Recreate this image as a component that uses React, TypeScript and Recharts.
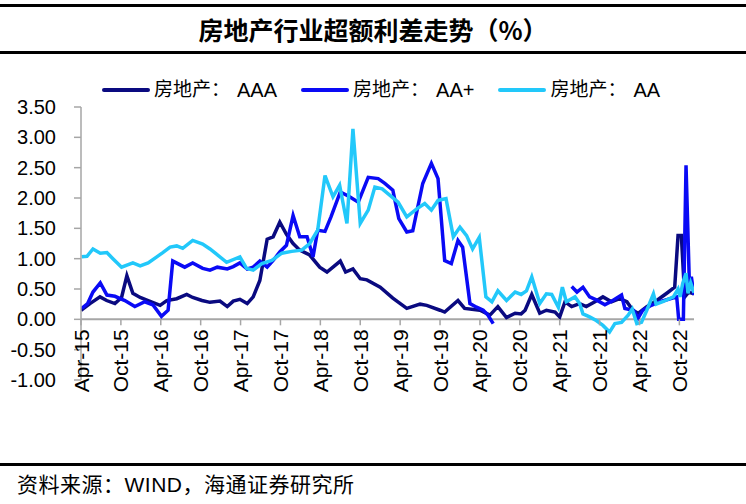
import React from "react";
import { LineChart, Line, XAxis, YAxis, ReferenceLine } from "recharts";

// x values are months counted from Apr-15
const X_LABELS = [
  "Apr-15", "Oct-15", "Apr-16", "Oct-16", "Apr-17", "Oct-17", "Apr-18", "Oct-18",
  "Apr-19", "Oct-19", "Apr-20", "Oct-20", "Apr-21", "Oct-21", "Apr-22", "Oct-22",
];
const X_TICKS = X_LABELS.map((_, i) => i * 6);
const Y_TICKS = [-1, -0.5, 0, 0.5, 1, 1.5, 2, 2.5, 3, 3.5];

const aaaMonth = [0, 1.35, 2.86, 3.86, 5.1, 6.1, 6.9, 7.8, 8.9, 10.1, 11.9, 12.9, 14.4, 15.9, 16.8, 18.2, 19.4, 20.9, 22, 22.9, 23.9, 25, 25.9, 26.9, 28, 28.9, 29.9, 30.9, 31.9, 32.9, 34.4, 35.9, 37, 37.9, 39, 39.8, 40.9, 42, 43, 45, 46.9, 49, 51, 52, 54, 54.7, 56.7, 57.7, 60, 61.5, 62.7, 64, 65.3, 66.2, 66.8, 67.8, 69, 70, 71.3, 72, 72.8, 73.8, 75, 76, 77.3, 78.5, 79.8, 81, 82.1, 83, 83.8, 85.1, 86.6, 88.1, 89.3, 89.8, 90.3, 90.8, 91.4, 92.2];
const aaaValue = [0.15, 0.26, 0.37, 0.31, 0.26, 0.36, 0.72, 0.43, 0.36, 0.31, 0.23, 0.31, 0.34, 0.41, 0.36, 0.31, 0.28, 0.3, 0.21, 0.3, 0.33, 0.26, 0.37, 0.64, 1.32, 1.36, 1.6, 1.4, 1.25, 1.14, 1.06, 0.86, 0.78, 0.86, 0.96, 0.78, 0.83, 0.67, 0.65, 0.53, 0.35, 0.18, 0.25, 0.23, 0.15, 0.12, 0.31, 0.18, 0.15, 0.07, 0.21, 0.03, 0.1, 0.09, 0.15, 0.41, 0.1, 0.15, 0.12, 0.04, 0.29, 0.21, 0.26, 0.21, 0.29, 0.37, 0.29, 0.34, 0.29, 0.15, 0.1, 0.21, 0.31, 0.43, 0.53, 1.38, 1.38, 0.37, 0.45, 0.42];

const aaPlusMonth = [0.1, 1, 1.8, 2.9, 3.9, 5.1, 6.6, 8.1, 9.6, 10.8, 12.1, 13.1, 13.8, 15.6, 16.8, 18.3, 19.4, 20.5, 22, 22.9, 23.9, 25, 25.9, 26.9, 28, 28.9, 29.9, 30.9, 31.9, 32.9, 34, 34.9, 35.6, 36.7, 37.6, 39, 40.4, 41.7, 43.2, 44.7, 45.7, 46.9, 47.8, 49, 49.9, 51.4, 52.7, 53.7, 54.7, 55.7, 56.7, 57.4, 58.5, 59.5, 60.5, 61.2, 62, 67, 73.8, 74.6, 75.5, 76.5, 77.5, 78.8, 79.8, 81.3, 81.8, 83.1, 83.8, 84.5, 85.6, 87.1, 88.6, 89.6, 89.9, 90.6, 91, 91.5, 91.8, 92.2];
const aaPlusValue = [0.18, 0.26, 0.45, 0.6, 0.4, 0.38, 0.31, 0.21, 0.29, 0.24, 0.05, 0.15, 0.96, 0.86, 0.93, 0.84, 0.81, 0.86, 0.83, 0.87, 0.93, 0.83, 0.86, 0.96, 0.86, 0.97, 1.11, 1.22, 1.71, 1.36, 1.36, 1.03, 1.47, 1.45, 1.69, 2.1, 2.02, 1.93, 2.34, 2.32, 2.24, 2.13, 1.66, 1.44, 1.46, 2.24, 2.57, 2.32, 0.97, 0.92, 1.3, 1.19, 0.26, 0.2, 0.15, 0.07, -0.07, null, 0.54, 0.45, 0.53, 0.37, 0.32, 0.24, 0.3, 0.4, 0.18, 0.15, 0.02, 0.15, 0.22, 0.29, 0.34, 0.37, 0, 0, 2.54, 0.6, 0.7, 0.4];

const aaMonth = [0.1, 0.9, 1.8, 2.9, 3.9, 4.8, 6.1, 7.8, 8.9, 10.1, 11.4, 12.3, 13.4, 14.4, 15.3, 16.8, 18.3, 19.4, 20.2, 21.9, 23.9, 24.9, 25.9, 27.2, 28.7, 30.2, 31.7, 33.2, 34.4, 35.6, 36.7, 37.9, 38.9, 40, 40.9, 42, 43.2, 44.2, 45.3, 47.7, 49, 50.5, 51.7, 52.7, 53.7, 54.9, 56, 57, 58, 58.9, 59.9, 60.9, 61.8, 62.7, 64, 65.3, 66.2, 67, 67.8, 69, 70, 70.8, 71.8, 72.4, 73, 74.3, 75, 75.5, 76.5, 77.5, 78.5, 79.5, 80.3, 81.3, 82.3, 82.9, 83.6, 84.3, 85.1, 86.1, 86.5, 87.5, 89.1, 89.8, 90.1, 90.5, 91, 91.3, 91.7, 92.2];
const aaValue = [1.03, 1.04, 1.16, 1.09, 1.1, 1.0, 0.86, 0.93, 0.88, 0.93, 1.03, 1.1, 1.19, 1.21, 1.17, 1.3, 1.24, 1.16, 1.09, 0.94, 1.03, 0.84, 0.81, 0.92, 0.97, 1.09, 1.12, 1.14, 1.25, 1.47, 2.37, 2.02, 2.21, 1.58, 3.14, 1.58, 1.8, 2.18, 2.15, 1.93, 1.69, 1.82, 1.91, 1.8, 1.96, 1.99, 1.36, 1.52, 1.38, 1.16, 1.35, 0.37, 0.29, 0.47, 0.31, 0.45, 0.41, 0.47, 0.7, 0.26, 0.42, 0.41, 0.2, 0.53, 0.29, 0.37, 0.26, 0.09, 0.04, -0.02, -0.1, -0.21, -0.07, -0.05, 0.07, 0.17, -0.07, -0.05, 0.15, 0.42, 0.25, 0.29, 0.37, 0.5, 0.37, 0.59, 0.76, 0.43, 0.6, 0.44];

const zip = (t: number[], v: (number | null)[]) => t.map((m, i) => ({ t: m, v: v[i] }));

const series = [
  { prefix: "房地产：", rating: "AAA", color: "#0a0a80", data: zip(aaaMonth, aaaValue) },
  { prefix: "房地产：", rating: "AA+", color: "#0a0af5", data: zip(aaPlusMonth, aaPlusValue) },
  { prefix: "房地产：", rating: "AA", color: "#22c8fa", data: zip(aaMonth, aaValue) },
];

const AXIS = "#a6a6a6";
const LATIN = "'Liberation Sans', Arial, 'Noto Sans CJK SC', sans-serif";
const PLOT_TOP = 107;
const PLOT_BOTTOM = 380;
const Y_MIN = -1;
const Y_MAX = 3.5;
// the category axis sits on the zero line
const ZERO_Y = PLOT_TOP + ((PLOT_BOTTOM - PLOT_TOP) * Y_MAX) / (Y_MAX - Y_MIN);

function XTick({ x, payload }: any) {
  const label = X_LABELS[Math.round(payload.value / 6)];
  return (
    <g>
      <line x1={x} x2={x} y1={ZERO_Y} y2={ZERO_Y + 6} stroke={AXIS} strokeWidth={1.5} />
      <text
        transform={`translate(${x + 7.5},${ZERO_Y + 10}) rotate(-90)`}
        textAnchor="end"
        fontSize={21}
        fill="#000"
        fontFamily={LATIN}
      >
        {label}
      </text>
    </g>
  );
}

export default function App() {
  return (
    <div style={{ position: "absolute", left: 0, top: 0, width: 746, height: 504, background: "#fff", fontFamily: LATIN }}>
      <div style={{ position: "absolute", left: 0, top: 4, width: 746, height: 3, background: "#000" }} />
      <div
        style={{
          position: "absolute", left: 0, top: 13, width: 746, textAlign: "center",
          fontSize: 25, fontWeight: 700, fontFamily: "'Noto Sans CJK SC', sans-serif", lineHeight: "32px",
        }}
      >
        房地产行业超额利差走势（%）
      </div>
      <div style={{ position: "absolute", left: 0, top: 51, width: 746, height: 3, background: "#000" }} />

      <div style={{ position: "absolute", left: 102, top: 78, display: "flex", alignItems: "center", fontSize: 19, lineHeight: "24px" }}>
        {series.map((s) => (
          <div key={s.rating} style={{ display: "flex", alignItems: "center", marginRight: 24 }}>
            <div style={{ width: 48, height: 4, background: s.color, borderRadius: 2, marginRight: 4 }} />
            <span>{s.prefix}</span>
            <span style={{ marginLeft: 7, fontSize: 20 }}>{s.rating}</span>
          </div>
        ))}
      </div>

      <div style={{ position: "absolute", left: 0, top: 0 }}>
        <LineChart width={746} height={504} margin={{ top: PLOT_TOP, right: 52, left: 21, bottom: 94 }}>
          <XAxis
            type="number"
            dataKey="t"
            domain={[0, 92.2]}
            ticks={X_TICKS}
            interval={0}
            allowDataOverflow
            axisLine={false}
            tickLine={false}
            height={30}
            tick={<XTick />}
          />
          <YAxis
            type="number"
            domain={[Y_MIN, Y_MAX]}
            ticks={Y_TICKS}
            interval={0}
            width={60}
            tickSize={7}
            tickMargin={18}
            axisLine={{ stroke: AXIS, strokeWidth: 1.5 }}
            tickLine={{ stroke: AXIS, strokeWidth: 1.5 }}
            tick={{ fontSize: 20, fill: "#000", fontFamily: LATIN }}
            tickFormatter={(v: number) => v.toFixed(2)}
          />
          <ReferenceLine y={0} stroke={AXIS} strokeWidth={2} />
          {series.map((s) => (
            <Line
              key={s.rating}
              data={s.data}
              dataKey="v"
              name={s.prefix + s.rating}
              type="linear"
              stroke={s.color}
              strokeWidth={3.5}
              dot={false}
              activeDot={false}
              isAnimationActive={false}
            />
          ))}
        </LineChart>
      </div>

      <div style={{ position: "absolute", left: 0, top: 463, width: 746, height: 3, background: "#000" }} />
      <div style={{ position: "absolute", left: 17, top: 472, fontSize: 21, letterSpacing: 0.5, lineHeight: "26px" }}>
        资料来源：WIND，海通证券研究所
      </div>
    </div>
  );
}
